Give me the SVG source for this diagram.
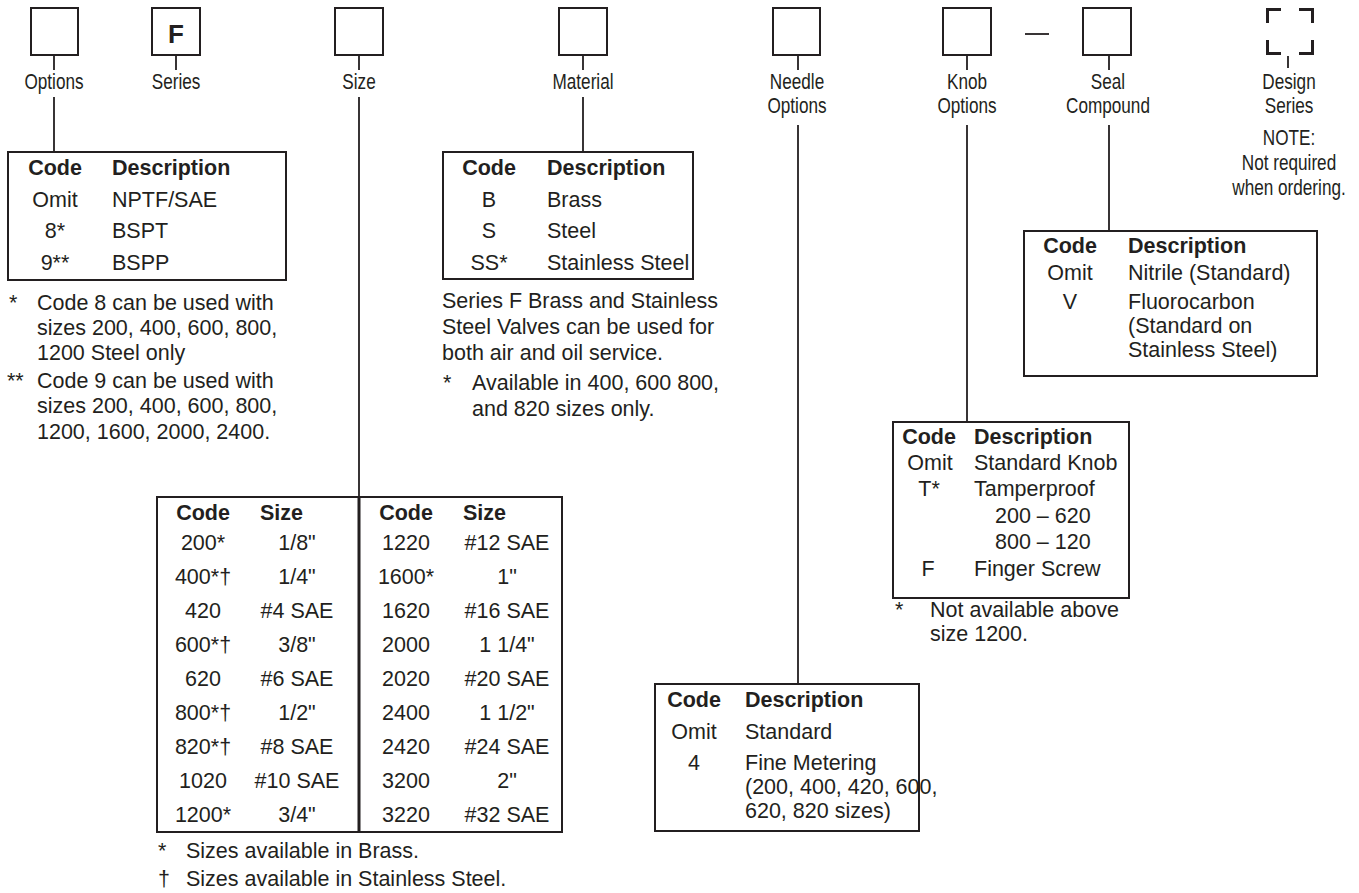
<svg xmlns="http://www.w3.org/2000/svg" width="1359" height="893" viewBox="0 0 1359 893">
<style>
.bx{fill:none;stroke:#231f20;stroke-width:2}
.ln{fill:none;stroke:#231f20;stroke-width:1.8}
.br{fill:none;stroke:#231f20;stroke-width:3}
text{fill:#231f20}
.lbl{font-family:'Liberation Sans',Arial,sans-serif;font-size:22px;text-anchor:middle}
.t{font-family:'Liberation Sans',Arial,sans-serif;font-size:21.5px}
.b{font-weight:bold}
.c{text-anchor:middle}
</style>
<rect width="1359" height="893" fill="#fff"/>
<g id="connectors">
<line class="ln" x1="54" y1="55" x2="54" y2="70"/>
<line class="ln" x1="54" y1="97" x2="54" y2="152"/>
<line class="ln" x1="176" y1="55" x2="176" y2="70"/>
<line class="ln" x1="359" y1="55" x2="359" y2="70"/>
<line class="ln" x1="359" y1="97" x2="359" y2="497"/>
<line class="ln" x1="583" y1="55" x2="583" y2="70"/>
<line class="ln" x1="583" y1="97" x2="583" y2="152"/>
<line class="ln" x1="798" y1="55" x2="798" y2="70"/>
<line class="ln" x1="798" y1="125" x2="798" y2="684"/>
<line class="ln" x1="967" y1="55" x2="967" y2="70"/>
<line class="ln" x1="967" y1="125" x2="967" y2="422"/>
<line class="ln" x1="1109" y1="55" x2="1109" y2="70"/>
<line class="ln" x1="1109" y1="125" x2="1109" y2="231"/>
<line class="ln" x1="1288" y1="56" x2="1288" y2="68"/>
<line class="ln" x1="1025" y1="34" x2="1049" y2="34"/>
</g>
<g id="options">
<rect class="bx" x="31" y="8" width="47" height="47"/>
<text class="lbl" transform="translate(54 89) scale(0.78 1)">Options</text>
</g>
<g id="series">
<rect class="bx" x="152" y="8" width="48" height="47"/>
<text class="t b c" x="176" y="43" style="font-size:26px">F</text>
<text class="lbl" transform="translate(176 89) scale(0.78 1)">Series</text>
</g>
<g id="size">
<rect class="bx" x="335" y="8" width="48" height="47"/>
<text class="lbl" transform="translate(359 89) scale(0.78 1)">Size</text>
</g>
<g id="material">
<rect class="bx" x="559" y="8" width="48" height="47"/>
<text class="lbl" transform="translate(583 89) scale(0.78 1)">Material</text>
</g>
<g id="needle">
<rect class="bx" x="773" y="8" width="47" height="47"/>
<text class="lbl" transform="translate(797 89) scale(0.78 1)">Needle</text>
<text class="lbl" transform="translate(797 113) scale(0.78 1)">Options</text>
</g>
<g id="knob">
<rect class="bx" x="943" y="8" width="48" height="47"/>
<text class="lbl" transform="translate(967 89) scale(0.78 1)">Knob</text>
<text class="lbl" transform="translate(967 113) scale(0.78 1)">Options</text>
</g>
<g id="seal">
<rect class="bx" x="1083" y="8" width="48" height="47"/>
<text class="lbl" transform="translate(1108 89) scale(0.78 1)">Seal</text>
<text class="lbl" transform="translate(1108 113) scale(0.78 1)">Compound</text>
</g>
<g id="design">
<path class="br" d="M1267.5 23V9.5H1281 M1299 9.5H1312.5V23 M1267.5 40V53.5H1281 M1299 53.5H1312.5V40"/>
<text class="lbl" transform="translate(1289 89) scale(0.78 1)">Design</text>
<text class="lbl" transform="translate(1289 113) scale(0.78 1)">Series</text>
<text class="lbl" transform="translate(1289 145) scale(0.78 1)">NOTE:</text>
<text class="lbl" transform="translate(1289 170) scale(0.78 1)">Not required</text>
<text class="lbl" transform="translate(1289 195) scale(0.78 1)">when ordering.</text>
</g>
<g id="options-table">
<rect class="bx" x="8" y="152" width="278" height="128"/>
<text class="t b c" x="55" y="175">Code</text>
<text class="t b" x="112" y="175">Description</text>
<text class="t c" x="55" y="207">Omit</text><text class="t" x="112" y="207">NPTF/SAE</text>
<text class="t c" x="55" y="238">8*</text><text class="t" x="112" y="238">BSPT</text>
<text class="t c" x="55" y="270">9**</text><text class="t" x="112" y="270">BSPP</text>
<text class="t" x="9" y="310">*</text>
<text class="t" x="37" y="310">Code 8 can be used with</text>
<text class="t" x="37" y="335">sizes 200, 400, 600, 800,</text>
<text class="t" x="37" y="360">1200 Steel only</text>
<text class="t" x="7" y="388">**</text>
<text class="t" x="37" y="388">Code 9 can be used with</text>
<text class="t" x="37" y="413">sizes 200, 400, 600, 800,</text>
<text class="t" x="37" y="439">1200, 1600, 2000, 2400.</text>
</g>
<g id="material-table">
<rect class="bx" x="443" y="152" width="250" height="127"/>
<text class="t b c" x="489" y="175">Code</text>
<text class="t b" x="547" y="175">Description</text>
<text class="t c" x="489" y="207">B</text><text class="t" x="547" y="207">Brass</text>
<text class="t c" x="489" y="238">S</text><text class="t" x="547" y="238">Steel</text>
<text class="t c" x="489" y="270">SS*</text><text class="t" x="547" y="270">Stainless Steel</text>
<text class="t" x="442" y="308">Series F Brass and Stainless</text>
<text class="t" x="442" y="334">Steel Valves can be used for</text>
<text class="t" x="442" y="360">both air and oil service.</text>
<text class="t" x="443" y="390">*</text>
<text class="t" x="472" y="390">Available in 400, 600 800,</text>
<text class="t" x="472" y="416">and 820 sizes only.</text>
</g>
<g id="size-table">
<rect class="bx" x="157" y="497" width="405" height="335"/>
<line x1="359" y1="497" x2="359" y2="832" stroke="#231f20" stroke-width="3"/>
<text class="t b c" x="203" y="520">Code</text><text class="t b" x="260" y="520">Size</text>
<text class="t b c" x="406" y="520">Code</text><text class="t b" x="463" y="520">Size</text>
<text class="t c" x="203" y="550">200*</text><text class="t c" x="297" y="550">1/8"</text>
<text class="t c" x="203" y="584">400*†</text><text class="t c" x="297" y="584">1/4"</text>
<text class="t c" x="203" y="618">420</text><text class="t c" x="297" y="618">#4 SAE</text>
<text class="t c" x="203" y="652">600*†</text><text class="t c" x="297" y="652">3/8"</text>
<text class="t c" x="203" y="686">620</text><text class="t c" x="297" y="686">#6 SAE</text>
<text class="t c" x="203" y="720">800*†</text><text class="t c" x="297" y="720">1/2"</text>
<text class="t c" x="203" y="754">820*†</text><text class="t c" x="297" y="754">#8 SAE</text>
<text class="t c" x="203" y="788">1020</text><text class="t c" x="297" y="788">#10 SAE</text>
<text class="t c" x="203" y="822">1200*</text><text class="t c" x="297" y="822">3/4"</text>
<text class="t c" x="406" y="550">1220</text><text class="t c" x="507" y="550">#12 SAE</text>
<text class="t c" x="406" y="584">1600*</text><text class="t c" x="507" y="584">1"</text>
<text class="t c" x="406" y="618">1620</text><text class="t c" x="507" y="618">#16 SAE</text>
<text class="t c" x="406" y="652">2000</text><text class="t c" x="507" y="652">1 1/4"</text>
<text class="t c" x="406" y="686">2020</text><text class="t c" x="507" y="686">#20 SAE</text>
<text class="t c" x="406" y="720">2400</text><text class="t c" x="507" y="720">1 1/2"</text>
<text class="t c" x="406" y="754">2420</text><text class="t c" x="507" y="754">#24 SAE</text>
<text class="t c" x="406" y="788">3200</text><text class="t c" x="507" y="788">2"</text>
<text class="t c" x="406" y="822">3220</text><text class="t c" x="507" y="822">#32 SAE</text>
<text class="t" x="158" y="858">*</text>
<text class="t" x="186" y="858">Sizes available in Brass.</text>
<text class="t" x="158" y="886">†</text>
<text class="t" x="186" y="886">Sizes available in Stainless Steel.</text>
</g>
<g id="needle-table">
<rect class="bx" x="655" y="684" width="264" height="147"/>
<text class="t b c" x="694" y="707">Code</text>
<text class="t b" x="745" y="707">Description</text>
<text class="t c" x="694" y="739">Omit</text><text class="t" x="745" y="739">Standard</text>
<text class="t c" x="694" y="770">4</text><text class="t" x="745" y="770">Fine Metering</text>
<text class="t" x="745" y="794">(200, 400, 420, 600,</text>
<text class="t" x="745" y="818">620, 820 sizes)</text>
</g>
<g id="knob-table">
<rect class="bx" x="893" y="422" width="236" height="176"/>
<text class="t b c" x="929" y="444">Code</text>
<text class="t b" x="974" y="444">Description</text>
<text class="t c" x="930" y="470">Omit</text><text class="t" x="974" y="470">Standard Knob</text>
<text class="t c" x="929" y="496">T*</text><text class="t" x="974" y="496">Tamperproof</text>
<text class="t" x="995" y="523">200 – 620</text>
<text class="t" x="995" y="549">800 – 120</text>
<text class="t c" x="928" y="576">F</text><text class="t" x="974" y="576">Finger Screw</text>
<text class="t" x="895" y="617">*</text>
<text class="t" x="930" y="617">Not available above</text>
<text class="t" x="930" y="641">size 1200.</text>
</g>
<g id="seal-table">
<rect class="bx" x="1024" y="231" width="293" height="145"/>
<text class="t b c" x="1070" y="253">Code</text>
<text class="t b" x="1128" y="253">Description</text>
<text class="t c" x="1070" y="280">Omit</text><text class="t" x="1128" y="280">Nitrile (Standard)</text>
<text class="t c" x="1070" y="309">V</text><text class="t" x="1128" y="309">Fluorocarbon</text>
<text class="t" x="1128" y="333">(Standard on</text>
<text class="t" x="1128" y="357">Stainless Steel)</text>
</g>
</svg>
